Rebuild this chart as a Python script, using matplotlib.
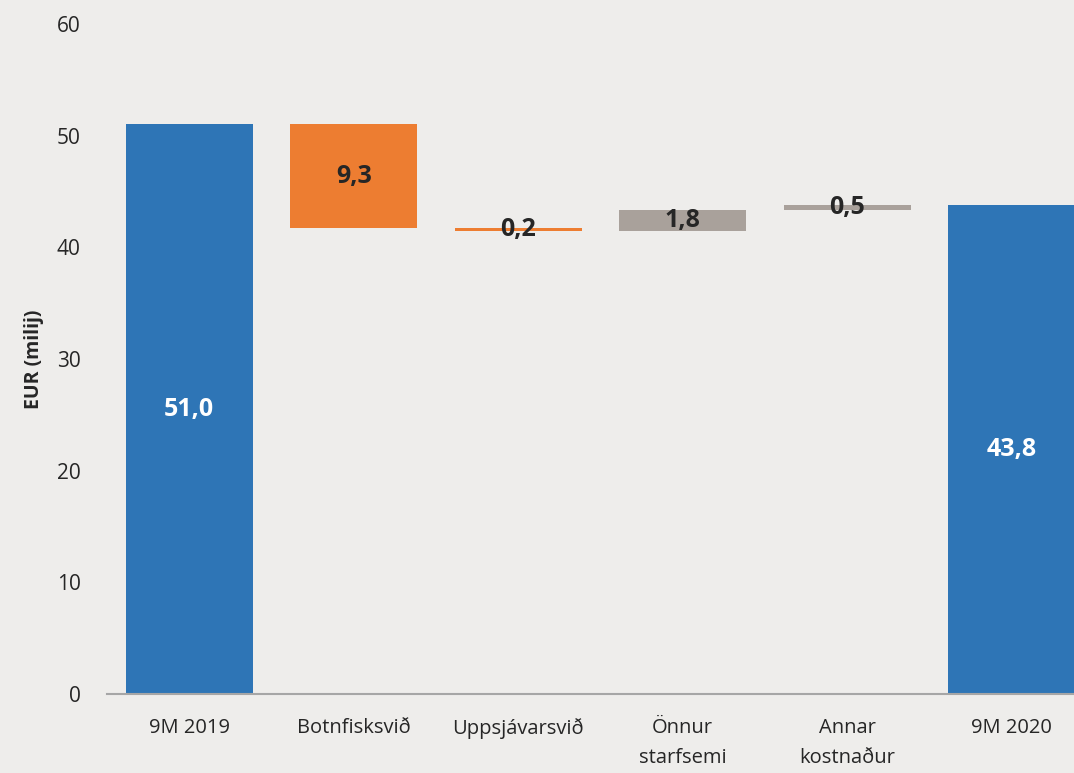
import numpy as np
import matplotlib.pyplot as plt

# Gögn
flokkar = ['9M 2019', 'Botnfisksvið', 'Uppsjávarsvið', 'Önnur\nstarfsemi', 'Annar\nkostnaður', '9M 2020']
breytingar = [51.0, -9.3, -0.2, 1.8, 0.5, 43.8]
merki = ['51,0', '9,3', '0,2', '1,8', '0,5', '43,8']
tegund = ['total', 'neg', 'neg', 'pos', 'pos', 'total']

litir = {'total': '#2E75B6', 'neg': '#ED7D31', 'pos': '#A9A19B'}
bg = '#EEEDEB'

plt.rcParams['font.family'] = ['Open Sans', 'DejaVu Sans']

fig = plt.figure(figsize=(10.74, 7.73), dpi=100, facecolor=bg)
ax = fig.add_axes([0.0996, 0.102, 0.919, 0.867], facecolor=bg)

x = np.arange(len(flokkar))
botn = []
haed = []
staða = 0
for b, t in zip(breytingar, tegund):
    if t == 'total':
        botn.append(0)
        haed.append(b)
        staða = b
    elif b < 0:
        botn.append(staða + b)
        haed.append(-b)
        staða += b
    else:
        botn.append(staða)
        haed.append(b)
        staða += b

ax.bar(x, haed, bottom=botn, width=0.77, color=[litir[t] for t in tegund])

for xi, b0, h, m, t in zip(x, botn, haed, merki, tegund):
    ax.text(xi, b0 + h / 2, m, ha='center', va='center', fontsize=18, fontweight='bold',
            color='white' if t == 'total' else '#262626')

ax.set_xlim(-0.5, 5.5)
ax.set_ylim(0, 60)
ax.set_yticks(range(0, 61, 10))
ax.set_xticks(x)
ax.set_xticklabels(flokkar, fontsize=14.5, color='#262626', linespacing=1.7)
ax.tick_params(axis='y', labelsize=15, colors='#262626', length=0, pad=19)
ax.tick_params(axis='x', length=0, pad=17)
for s in ['top', 'right', 'left']:
    ax.spines[s].set_visible(False)
ax.spines['bottom'].set_color('#A6A6A6')
ax.spines['bottom'].set_linewidth(1.5)
ax.set_ylabel('EUR (milij)', fontsize=14, fontweight='bold', color='#262626', labelpad=9)

fig.savefig('out.png', dpi=100, facecolor=bg)
